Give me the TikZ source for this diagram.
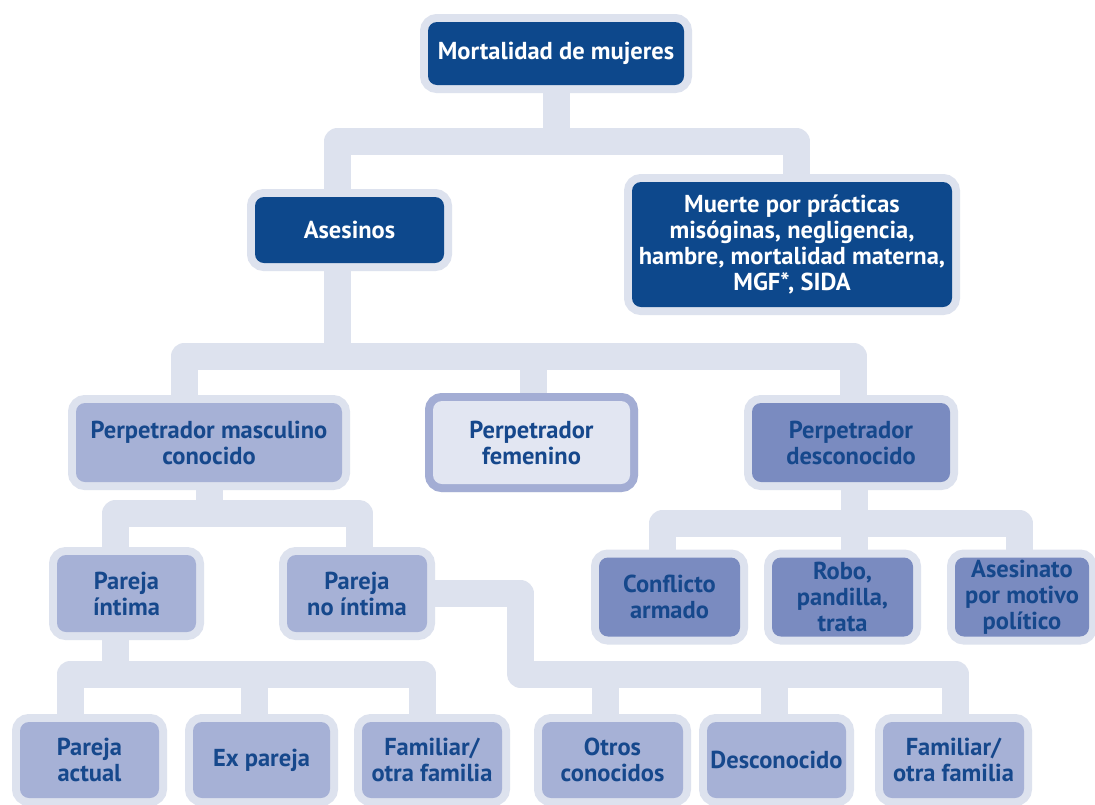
\documentclass[tikz,border=0pt]{standalone}
\usepackage{fontspec}
\setmainfont{PT Sans}
\usepackage{xcolor}
\usetikzlibrary{backgrounds}

\definecolor{navy}{RGB}{13,72,140}
\definecolor{halo}{RGB}{221,226,238}
\definecolor{midblue}{RGB}{166,177,214}
\definecolor{deepblue}{RGB}{122,139,192}
\definecolor{paleblue}{RGB}{226,230,242}
\definecolor{rimblue}{RGB}{163,173,212}
\definecolor{inkblue}{RGB}{22,72,140}

\tikzset{
    boxsize/.style 2 args={minimum width=#1pt, minimum height=#2pt},
}

\begin{document}
\begin{tikzpicture}[
    x=1pt, y=-1pt,
    box/.style={rounded corners=9pt, align=center, inner sep=0pt,
        font={\fontsize{24.5}{26}\selectfont\bfseries},
        preaction={draw=halo, line width=16pt}},
    dark/.style={box, fill=navy, text=white},
    mid/.style={box, fill=midblue, text=inkblue},
    deep/.style={box, fill=deepblue, text=inkblue},
    pale/.style={box, fill=paleblue, text=inkblue,
        preaction={draw=rimblue, line width=16pt}},
    bar/.style={draw=halo, line width=27pt, line join=round},
    ]

    \useasboundingbox (0,0) rectangle (1095,804);

    % top
    \node[dark, boxsize={256}{63}] (mortalidad) at (556,53.5) {Mortalidad de mujeres};

    % second row
    \node[dark, boxsize={189}{66}] (asesinos) at (349.5,230) {Asesinos};
    \node[dark, boxsize={320}{125}] (muerte) at (792,244.5)
        {Muerte por prácticas\\misóginas, negligencia,\\hambre, mortalidad materna,\\MGF*, SIDA};

    % perpetrators
    \node[mid, boxsize={266}{79}] (pmc) at (209,442.5) {Perpetrador masculino\\conocido};
    \node[pale, boxsize={197}{83}] (femenino) at (531.5,442.5) {Perpetrador\\femenino};
    \node[deep, boxsize={198}{79}] (desconocido) at (851,442.5) {Perpetrador\\desconocido};

    % partners
    \node[mid, boxsize={139}{77}] (intima) at (126.5,593.5) {Pareja\\íntima};
    \node[mid, boxsize={140}{77}] (nointima) at (357,593.5) {Pareja\\no íntima};

    % unknown perpetrator
    \node[deep, boxsize={141}{79}] (conflicto) at (669.5,597) {Conflicto\\armado};
    \node[deep, boxsize={141}{79}] (robo) at (842.5,597) {Robo,\\pandilla,\\trata};
    \node[deep, boxsize={134}{79}] (politico) at (1022,597) {Asesinato\\por motivo\\político};

    % bottom row
    \node[mid, boxsize={139}{76}] (actual) at (89.5,760) {Pareja\\actual};
    \node[mid, boxsize={137}{76}] (expareja) at (261.5,760) {Ex pareja};
    \node[mid, boxsize={140}{76}] (familiarA) at (432,760) {Familiar/\\otra familia};
    \node[mid, boxsize={141}{76}] (otros) at (612.5,760) {Otros\\conocidos};
    \node[mid, boxsize={139}{76}] (descB) at (776.5,760) {Desconocido};
    \node[mid, boxsize={141}{76}] (familiarB) at (953.5,760) {Familiar/\\otra familia};

    \begin{scope}[on background layer]
    \fill[white] (0,0) rectangle (1095,804);

    % mortality fork
    \coordinate (f1) at (556,141.5);
    \draw[bar] (mortalidad) -- (f1);
    \draw[bar] ([xshift=-12pt]asesinos.center) |- (f1) -| ([xshift=4.5pt]muerte.center);

    % killers fork
    \coordinate (f2) at (337.5,356);
    \draw[bar] ([xshift=-12pt]asesinos.center) -- (f2);
    \draw[bar] ([xshift=-24.5pt]pmc.center) |- (f2) -| ([xshift=2.5pt]desconocido.center);
    \draw[bar] ([xshift=2pt]femenino.center) |- (f2);

    % known male fork
    \coordinate (f3) at (209,513.5);
    \draw[bar] (pmc) -- (f3);
    \draw[bar] ([xshift=-11pt]intima.center) |- (f3) -| ([xshift=2pt]nointima.center);

    % intimate fork
    \coordinate (f4) at (115.5,674);
    \draw[bar] ([xshift=-11pt]intima.center) -- (f4);
    \draw[bar] ([xshift=-19pt]actual.center) |- (f4) -| ([xshift=-9.5pt]familiarA.center);
    \draw[bar] ([xshift=-7pt]expareja.center) |- (f4);

    % non intimate fork
    \coordinate (f5) at (520.5,674);
    \draw[bar] (nointima.center) -| (f5) -| ([xshift=2pt]familiarB.center);
    \draw[bar] ([xshift=-7.5pt]otros.center) |- (f5);
    \draw[bar] ([xshift=-2.5pt]descB.center) |- (f5);

    % unknown fork
    \coordinate (f6) at (854.5,523.5);
    \draw[bar] ([xshift=3.5pt]desconocido.center) -- ([xshift=12pt]robo.center);
    \draw[bar] ([xshift=-7pt]conflicto.center) |- (f6) -| ([xshift=-2.5pt]politico.center);
    \end{scope}

\end{tikzpicture}
\end{document}
